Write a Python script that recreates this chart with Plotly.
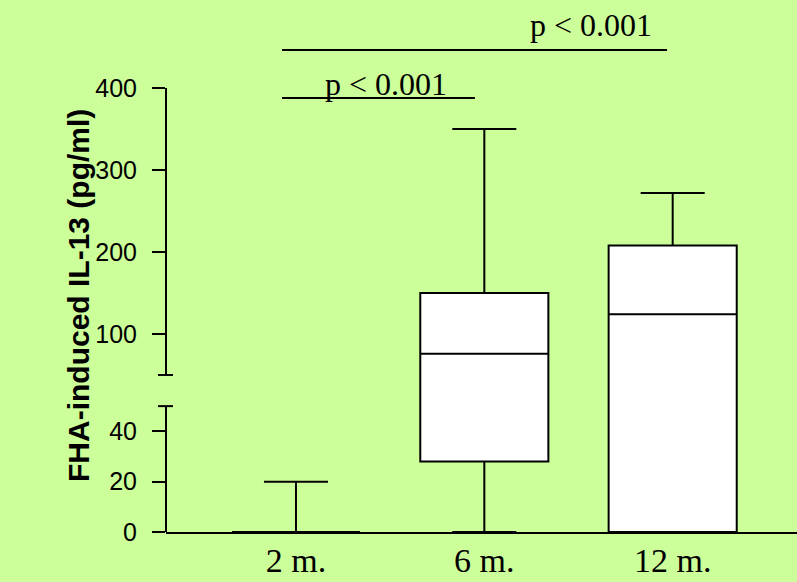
import plotly.graph_objects as go

# ---- data (real units, pg/ml) ----
categories = ["2 m.", "6 m.", "12 m."]
lower_whisker = [0, 0, 0]
q1 = [0, 28, 0]
median = [0, 76, 124]
q3 = [0, 150, 208]
upper_whisker = [20, 350, 272]

lower_ticks = [0, 20, 40]
upper_ticks = [100, 200, 300, 400]
p_labels = ["p < 0.001", "p < 0.001"]

# ---- broken y-axis mapping: 0-50 stretched, 50-400 compressed ----
BREAK_LO = 50
K_LOW = 3.07
OFFSET = 141.5
T_MAX = 648.8


def brk(v, upper=None):
    if upper is None:
        upper = v > BREAK_LO
    return OFFSET + v if upper else v * K_LOW


BG = "#CCFF99"

fig = go.Figure()
fig.add_trace(go.Box(
    x=categories,
    q1=[brk(v) for v in q1],
    median=[brk(v) for v in median],
    q3=[brk(v) for v in q3],
    lowerfence=[brk(v) for v in lower_whisker],
    upperfence=[brk(v) for v in upper_whisker],
    fillcolor="white",
    line=dict(color="black", width=2),
    width=0.68,
    whiskerwidth=0.5,
    boxpoints=False,
    showlegend=False,
    hoverinfo="skip",
))

tickvals = [brk(v, False) for v in lower_ticks] + [brk(v, True) for v in upper_ticks]
ticktext = [str(v) for v in lower_ticks + upper_ticks]

shapes = []
# axis segments
seg_low = (0, brk(BREAK_LO, False))
seg_up = (brk(BREAK_LO, True), brk(upper_ticks[-1], True))
for y0, y1 in (seg_low, seg_up):
    shapes.append(dict(type="line", xref="paper", yref="y", x0=0, x1=0, y0=y0, y1=y1,
                       line=dict(color="black", width=2)))
# break caps
for yv in (seg_low[1], seg_up[0]):
    shapes.append(dict(type="line", xref="paper", yref="y", x0=-0.0127, x1=0.0111, y0=yv, y1=yv,
                       line=dict(color="black", width=2)))

# significance bars
shapes.append(dict(type="line", xref="x", yref="paper", x0=-0.074, x1=0.95, y0=(532 - 98) / 532,
                   y1=(532 - 98) / 532, line=dict(color="black", width=2)))
shapes.append(dict(type="line", xref="x", yref="paper", x0=-0.074, x1=1.97, y0=(532 - 50) / 532,
                   y1=(532 - 50) / 532, line=dict(color="black", width=2)))

serif = "Liberation Serif, Times New Roman, serif"
annotations = [
    dict(text=p_labels[0], xref="x", yref="paper", x=0.48, y=(532 - 84) / 532, showarrow=False,
         yanchor="middle", xanchor="center",
         font=dict(family=serif, size=32, color="black")),
    dict(text=p_labels[1], xref="x", yref="paper", x=1.565, y=(532 - 25) / 532, showarrow=False,
         yanchor="middle", xanchor="center",
         font=dict(family=serif, size=32, color="black")),
    dict(text="<b>FHA-induced IL-13 (pg/ml)</b>", xref="paper", yref="paper", x=-88 / 631,
         y=(532 - 296) / 532, textangle=-90, showarrow=False, xanchor="center", yanchor="middle",
         font=dict(family="Liberation Sans, Arial, sans-serif", size=30, color="black")),
]

fig.update_layout(
    width=797, height=582,
    margin=dict(l=166, r=0, t=0, b=50),
    paper_bgcolor=BG, plot_bgcolor=BG,
    template="none",
    shapes=shapes,
    annotations=annotations,
    xaxis=dict(
        type="category", range=[-0.69, 2.66], showgrid=False, zeroline=False,
        showline=True, linecolor="black", linewidth=2, ticks="",
        tickfont=dict(family=serif, size=34, color="black"), automargin=False,
        ticklabelstandoff=-3,
    ),
    yaxis=dict(
        range=[0, T_MAX], tickvals=tickvals, ticktext=ticktext, showgrid=False,
        zeroline=False, showline=False, ticks="outside", ticklen=13, tickwidth=2,
        tickcolor="black", ticklabelstandoff=10,
        tickfont=dict(family="Liberation Sans, Arial, sans-serif", size=25, color="black"),
        automargin=False,
    ),
)

fig.write_html("out.html")
